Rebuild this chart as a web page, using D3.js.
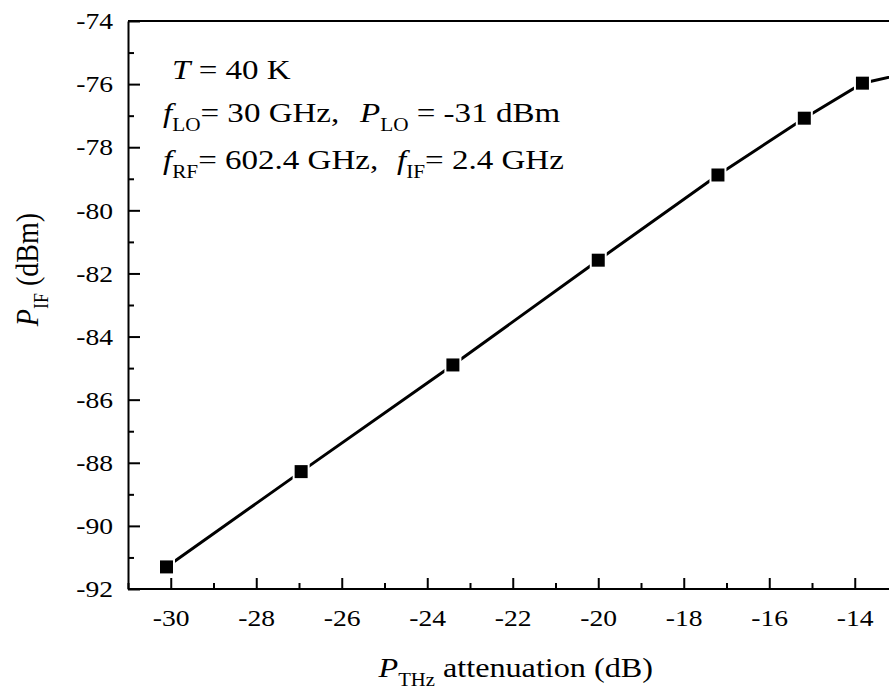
<!DOCTYPE html>
<html>
<head>
<meta charset="utf-8">
<script src="https://cdn.jsdelivr.net/npm/d3@7"></script>
<style>
  html, body { margin: 0; padding: 0; background: #fff; }
  svg { display: block; font-family: "Liberation Serif", "Times New Roman", serif; }
</style>
</head>
<body>
<svg id="chart" width="889" height="695"></svg>
<script>
// THz attenuation sweep: measured IF output power
const attenuation = [-30.1, -26.95, -23.4, -20.0, -17.2, -15.18, -13.82, -12.6];
const ifPower     = [-91.3, -88.28, -84.9, -81.58, -78.88, -77.08, -75.97, -75.6];

const xMajorTicks = [-30, -28, -26, -24, -22, -20, -18, -16, -14];
const xMinorTicks = [-31, -29, -27, -25, -23, -21, -19, -17, -15, -13];
const yMajorTicks = [-92, -90, -88, -86, -84, -82, -80, -78, -76, -74];
const yMinorTicks = [-91, -89, -87, -85, -83, -81, -79, -77, -75];

const svg = d3.select("#chart");
const WIDE = 1.15;              // glyphs are drawn wider than they are tall
const FONT = "Liberation Serif, Times New Roman, serif";

const plotLeft = 128, plotTop = 21, plotBottom = 589;
const x = d3.scaleLinear().domain([-31, -12]).range([plotLeft, plotLeft + 19 * 42.75]);
const y = d3.scaleLinear().domain([-92, -74]).range([plotBottom, plotTop]);
const fmt = d => String(d);

// minor ticks (no labels)
svg.append("g")
  .attr("transform", `translate(0,${plotBottom})`)
  .call(d3.axisBottom(x).tickValues(xMinorTicks).tickSize(-6).tickFormat(""))
  .call(g => g.select(".domain").remove())
  .call(g => g.selectAll("line").attr("stroke", "#000").attr("stroke-width", 2));

svg.append("g")
  .attr("transform", `translate(${plotLeft},0)`)
  .call(d3.axisLeft(y).tickValues(yMinorTicks).tickSize(-6).tickFormat(""))
  .call(g => g.select(".domain").remove())
  .call(g => g.selectAll("line").attr("stroke", "#000").attr("stroke-width", 2));

// major ticks with labels
const xAxis = svg.append("g")
  .attr("transform", `translate(0,${plotBottom})`)
  .call(d3.axisBottom(x).tickValues(xMajorTicks).tickSize(-11).tickSizeOuter(0)
        .tickPadding(20).tickFormat(fmt));
xAxis.select(".domain").attr("stroke", "#000").attr("stroke-width", 2)
  .attr("d", `M${plotLeft},0H${x(-12)}`);
xAxis.selectAll("line").attr("stroke", "#000").attr("stroke-width", 2);
xAxis.selectAll("text").attr("font-size", 24).attr("fill", "#000")
  .attr("font-family", FONT).attr("transform", `scale(${WIDE},1)`);

const yAxis = svg.append("g")
  .attr("transform", `translate(${plotLeft},0)`)
  .call(d3.axisLeft(y).tickValues(yMajorTicks).tickSize(-12).tickSizeOuter(0)
        .tickPadding(13).tickFormat(fmt));
yAxis.select(".domain").attr("stroke", "#000").attr("stroke-width", 2);
yAxis.selectAll("line").attr("stroke", "#000").attr("stroke-width", 2);
yAxis.selectAll("text").attr("font-size", 24).attr("fill", "#000")
  .attr("font-family", FONT).attr("transform", `scale(${WIDE},1)`);

// top frame line
svg.append("line")
  .attr("x1", plotLeft).attr("x2", x(-12)).attr("y1", plotTop).attr("y2", plotTop)
  .attr("stroke", "#000").attr("stroke-width", 2);

// data line
const pts = attenuation.map((a, i) => [a, ifPower[i]]);
svg.append("path")
  .datum(pts)
  .attr("fill", "none")
  .attr("stroke", "#000")
  .attr("stroke-width", 3)
  .attr("d", d3.line().x(d => x(d[0])).y(d => y(d[1])));

// square markers with a thin white gap around them
const sq = d3.symbol().type(d3.symbolSquare);
svg.append("g").selectAll("path").data(pts).join("path")
  .attr("transform", d => `translate(${x(d[0])},${y(d[1])})`)
  .attr("d", sq.size(17 * 17)())
  .attr("fill", "#fff");
svg.append("g").selectAll("path").data(pts).join("path")
  .attr("transform", d => `translate(${x(d[0])},${y(d[1])})`)
  .attr("d", sq.size(13 * 13)())
  .attr("fill", "#000");

// text placed at (tx, ty), widened on screen-x, optionally rotated
function label(tx, ty, anchor, rot, sx) {
  const s = sx || WIDE;
  const scale = rot ? `scale(1,${s})` : `scale(${s},1)`;
  const g = svg.append("g")
    .attr("transform", `translate(${tx},${ty})${rot ? ` rotate(${rot})` : ""} ${scale}`);
  return g.append("text")
    .attr("text-anchor", anchor)
    .attr("font-size", 28)
    .attr("font-family", FONT)
    .attr("fill", "#000");
}
function parts(t, list) {
  list.forEach(([s, kind]) => {
    const ts = t.append("tspan").text(s);
    if (kind === "i") ts.attr("font-style", "italic");
    if (kind === "sub") ts.attr("font-size", 18).attr("dy", 9);
    if (kind === "up") ts.attr("dy", -9);
  });
}

// annotation block
const AW = 1.18;
parts(label(172, 79, "start", 0, AW), [["T", "i"], [" = 40 K"]]);
parts(label(163, 122, "start", 0, AW), [["f", "i"], ["LO", "sub"], ["= 30 GHz,", "up"]]);
parts(label(360, 122, "start", 0, AW), [["P", "i"], ["LO", "sub"], [" = -31 dBm", "up"]]);
parts(label(163, 169, "start", 0, AW), [["f", "i"], ["RF", "sub"], ["= 602.4 GHz,", "up"]]);
parts(label(397, 169, "start", 0, AW), [["f", "i"], ["IF", "sub"], ["= 2.4 GHz", "up"]]);

// axis titles
parts(label(653, 677, "end"), [["P", "i"], ["THz", "sub"], [" attenuation (dB)", "up"]]);
parts(label(38, 213, "end", -90), [["P", "i"], ["IF", "sub"], [" (dBm)", "up"]]);
</script>
</body>
</html>
